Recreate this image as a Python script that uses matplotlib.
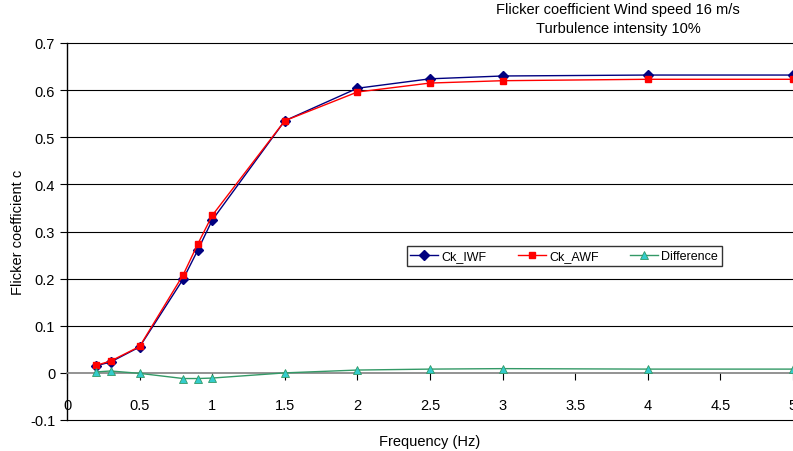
import numpy as np
import matplotlib
matplotlib.use('Agg')
import matplotlib.pyplot as plt

plt.rcParams['font.family'] = ['Liberation Sans', 'DejaVu Sans']

# data
freq = [0.2, 0.3, 0.5, 0.8, 0.9, 1.0, 1.5, 2.0, 2.5, 3.0, 4.0, 5.0]
ck_iwf = [0.015, 0.023, 0.055, 0.199, 0.260, 0.324, 0.535, 0.604, 0.624, 0.630, 0.632, 0.632]
ck_awf = [0.016, 0.025, 0.056, 0.208, 0.273, 0.334, 0.535, 0.596, 0.615, 0.620, 0.623, 0.623]
diff = [0.002, 0.004, -0.001, -0.012, -0.012, -0.011, 0.0, 0.006, 0.008, 0.009, 0.008, 0.008]

xticks = [0, 0.5, 1, 1.5, 2, 2.5, 3, 3.5, 4, 4.5, 5]
xticklabels = ['0', '0.5', '1', '1.5', '2', '2.5', '3', '3.5', '4', '4.5', '5']
yticks = [-0.1, 0, 0.1, 0.2, 0.3, 0.4, 0.5, 0.6, 0.7]
yticklabels = ['-0.1', '0', '0.1', '0.2', '0.3', '0.4', '0.5', '0.6', '0.7']

fig = plt.figure(figsize=(7.93, 4.52), dpi=100)
ax = fig.add_axes([67/793, 1 - 421/452, 1 - 67/793, (421 - 44)/452])

# horizontal gridlines
for y in yticks:
    if y != 0:
        ax.axhline(y, color='black', lw=0.8, zorder=0, clip_on=False)

ax.plot(freq, ck_iwf, color='#000080', marker='D', ms=5, lw=1.0, label='Ck_IWF', zorder=3)
ax.plot(freq, ck_awf, color='#ff0000', marker='s', ms=5, lw=1.0, label='Ck_AWF', zorder=3)
ax.plot(freq, diff, color='#339966', marker='^', ms=5.5, mfc='#33cccc', mec='#339966',
        mew=0.6, lw=1.0, label='Difference', zorder=3)

ax.set_xlim(0, 5.0)
ax.set_ylim(-0.1, 0.7)
ax.spines['right'].set_visible(False)
ax.spines['top'].set_visible(False)
ax.spines['bottom'].set_position(('data', 0))
ax.spines['bottom'].set_color('#808080')
ax.spines['bottom'].set_linewidth(1.2)
ax.spines['left'].set_linewidth(1.0)

ax.set_xticks(xticks)
ax.set_xticklabels(xticklabels)
ax.set_yticks(yticks)
ax.set_yticklabels(yticklabels)
ax.tick_params(axis='x', direction='out', length=5, pad=13, labelsize=10.5, color='black')
ax.tick_params(axis='y', direction='out', length=5, labelsize=10.5)

ax.set_xlabel('Frequency (Hz)', fontsize=10.5)
ax.xaxis.set_label_coords(0.5, -0.038)
ax.set_ylabel('Flicker coefficient c', fontsize=10.5)
ax.yaxis.set_label_coords(-0.058, 0.5)

fig.text(618/793, 1 - 3/452, 'Flicker coefficient Wind speed 16 m/s\nTurbulence intensity 10%',
         ha='center', va='top', fontsize=10.5, linespacing=1.5)

leg = ax.legend(loc='center', bbox_to_anchor=(0.685, 0.435), ncol=3, fontsize=9,
                frameon=True, fancybox=False, edgecolor='black', handlelength=2.2,
                columnspacing=2.5, borderpad=0.3, handletextpad=0.3)
leg.get_frame().set_linewidth(1.0)

fig.savefig('out.png', dpi=100)
